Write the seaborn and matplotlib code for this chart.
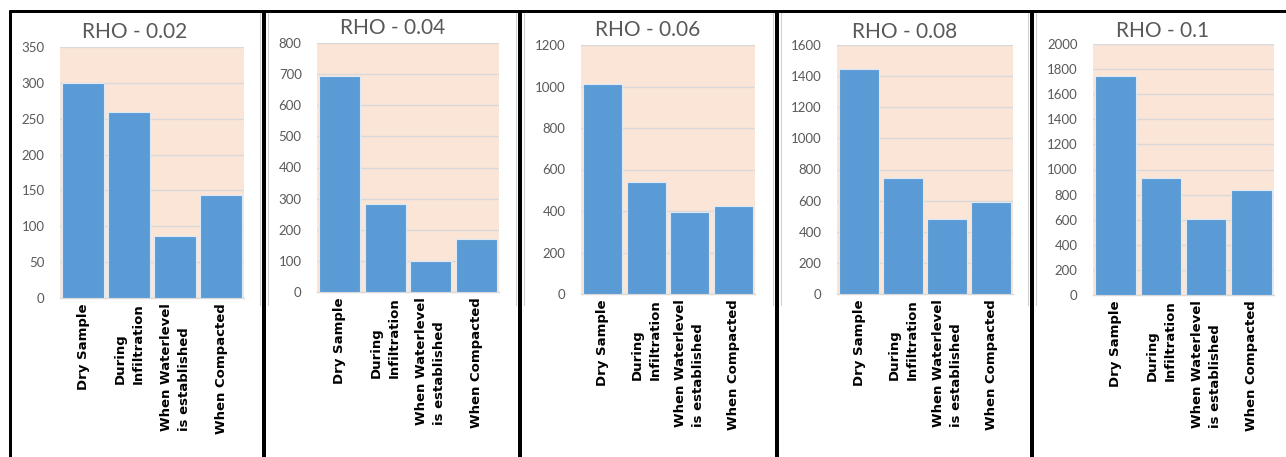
import matplotlib
matplotlib.use("Agg")
import matplotlib.pyplot as plt
from matplotlib.lines import Line2D
from matplotlib.ticker import MultipleLocator
import seaborn as sns
import pandas as pd

# ---------------- data ----------------
categories = ["Dry Sample", "During\nInfiltration",
              "When Waterlevel\nis established", "When Compacted"]
titles = ["RHO - 0.02", "RHO - 0.04", "RHO - 0.06", "RHO - 0.08", "RHO - 0.1"]
values_rho_002 = [300, 259, 87, 144]
values_rho_004 = [695, 284, 101, 171]
values_rho_006 = [1011, 541, 395, 426]
values_rho_008 = [1447, 748, 483, 594]
values_rho_010 = [1748, 932, 607, 838]
y_max = [350, 800, 1200, 1600, 2000]
y_step = [50, 100, 200, 200, 200]

all_values = [values_rho_002, values_rho_004, values_rho_006,
              values_rho_008, values_rho_010]

# ---------------- layout (pixels) ----------------
W, H = 1286, 457
axes_px = [  # left, right, top, bottom
    (60, 244, 47, 298),
    (317, 499, 43, 292),
    (581, 755, 45, 294),
    (837, 1013, 45, 294),
    (1093, 1274, 44, 295),
]
title_px = [(135, 32), (393, 28), (648, 30), (905, 32), (1163, 31)]
dividers = [(10, 3), (264, 4), (520, 4), (777, 4), (1032, 4)]

sns.set_theme(style="white")
plt.rcParams["font.family"] = ["Lato", "DejaVu Sans"]

fig = plt.figure(figsize=(W / 100, H / 100), dpi=100)
fig.patch.set_facecolor("white")

bar_color = "#5B9BD5"
bg_color = "#FBE5D6"
grid_color = "#D9D9D9"
text_gray = "#595959"

for i, (vals, (l, r, t, b)) in enumerate(zip(all_values, axes_px)):
    ax = fig.add_axes([l / W, 1 - b / H, (r - l) / W, (b - t) / H])
    df = pd.DataFrame({"cat": categories, "val": vals})
    sns.barplot(data=df, x="cat", y="val", ax=ax, color=bar_color,
                saturation=1, width=0.9, edgecolor="#DDE8F5", linewidth=0.8,
                zorder=3)
    ax.set_facecolor(bg_color)
    ax.set_xlim(-0.5, 3.5)
    ax.set_ylim(0, y_max[i])
    ax.yaxis.set_major_locator(MultipleLocator(y_step[i]))
    ax.grid(axis="y", color=grid_color, linewidth=1, zorder=0)
    ax.set_axisbelow(True)
    for s in ["top", "right", "left"]:
        ax.spines[s].set_visible(False)
    ax.spines["bottom"].set_color(grid_color)
    ax.spines["bottom"].set_linewidth(1)
    ax.set_xlabel("")
    ax.set_ylabel("")
    ax.tick_params(axis="y", length=0, pad=11, labelsize=9.5,
                   labelcolor=text_gray)
    ax.tick_params(axis="x", length=0, pad=4)
    ax.set_xticks(range(len(categories)))
    ax.set_xticklabels(categories, rotation=90, fontsize=9.5,
                       fontweight="bold", family=["DejaVu Sans"],
                       color="black", multialignment="left", linespacing=1.5)
    tx, ty = title_px[i]
    fig.text(tx / W, 1 - ty / H, titles[i], ha="center", va="center",
             fontsize=15, color=text_gray)

# faint chart-area edges
for x in [260, 268, 516, 524, 773, 781, 1028, 1036]:
    fig.add_artist(Line2D([x / W, x / W], [1 - 12 / H, 1 - 305 / H],
                          transform=fig.transFigure, color="#D0D0D0",
                          linewidth=0.8))

# black panel borders
fig.add_artist(Line2D([9 / W, 1.0], [1 - 11 / H, 1 - 11 / H],
                      transform=fig.transFigure, color="black",
                      linewidth=3 * 0.72, solid_capstyle="butt"))
for x, w in dividers:
    fig.add_artist(Line2D([x / W, x / W], [1 - 10 / H, 0.0],
                          transform=fig.transFigure, color="black",
                          linewidth=w * 0.72, solid_capstyle="butt"))

fig.savefig("out.png", dpi=100, facecolor="white")
